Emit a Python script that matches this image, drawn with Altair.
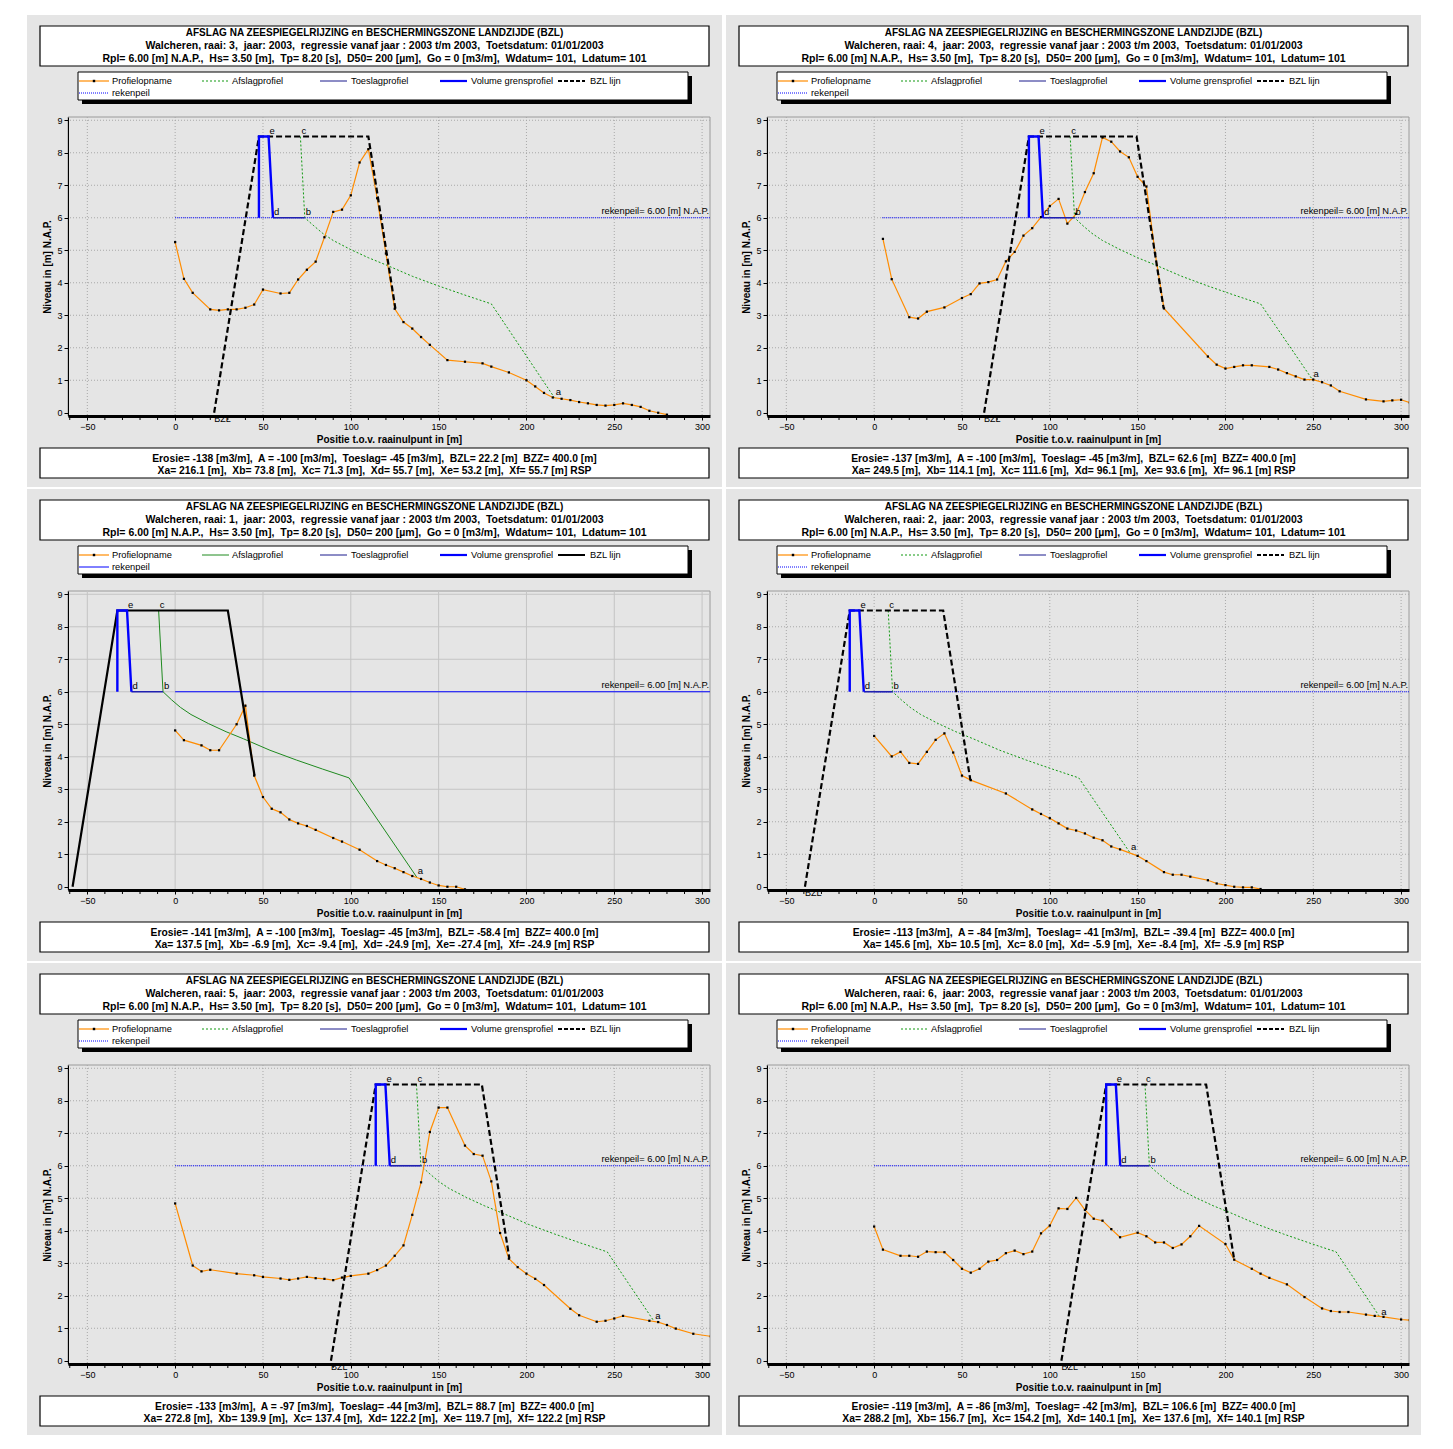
import altair as alt
import pandas as pd

FONT = "Liberation Sans"
PANELS = [3, 4, 1, 2, 5, 6]
SP2 = "\u00a0 "  # wide gap as in the original (double space)

# ---------------- texts ----------------
TITLE1 = "AFSLAG NA ZEESPIEGELRIJZING en BESCHERMINGSZONE LANDZIJDE (BZL)"
TITLE2 = {r: f"Walcheren, raai: {r},{SP2}jaar: 2003,{SP2}regressie vanaf jaar : 2003 t/m 2003,{SP2}Toetsdatum: 01/01/2003"
          for r in PANELS}
TITLE3 = (f"Rpl= 6.00 [m] N.A.P.,{SP2}Hs= 3.50 [m],{SP2}Tp= 8.20 [s],{SP2}D50= 200 [µm],{SP2}"
          f"Go = 0 [m3/m],{SP2}Wdatum= 101,{SP2}Ldatum= 101")
INFO1 = {
    3: f"Erosie= -138 [m3/m],{SP2}A = -100 [m3/m],{SP2}Toeslag= -45 [m3/m],{SP2}BZL= 22.2 [m]{SP2}BZZ= 400.0 [m]",
    4: f"Erosie= -137 [m3/m],{SP2}A = -100 [m3/m],{SP2}Toeslag= -45 [m3/m],{SP2}BZL= 62.6 [m]{SP2}BZZ= 400.0 [m]",
    1: f"Erosie= -141 [m3/m],{SP2}A = -100 [m3/m],{SP2}Toeslag= -45 [m3/m],{SP2}BZL= -58.4 [m]{SP2}BZZ= 400.0 [m]",
    2: f"Erosie= -113 [m3/m],{SP2}A = -84 [m3/m],{SP2}Toeslag= -41 [m3/m],{SP2}BZL= -39.4 [m]{SP2}BZZ= 400.0 [m]",
    5: f"Erosie= -133 [m3/m],{SP2}A = -97 [m3/m],{SP2}Toeslag= -44 [m3/m],{SP2}BZL= 88.7 [m]{SP2}BZZ= 400.0 [m]",
    6: f"Erosie= -119 [m3/m],{SP2}A = -86 [m3/m],{SP2}Toeslag= -42 [m3/m],{SP2}BZL= 106.6 [m]{SP2}BZZ= 400.0 [m]",
}
INFO2 = {
    3: f"Xa= 216.1 [m],{SP2}Xb= 73.8 [m],{SP2}Xc= 71.3 [m],{SP2}Xd= 55.7 [m],{SP2}Xe= 53.2 [m],{SP2}Xf= 55.7 [m] RSP",
    4: f"Xa= 249.5 [m],{SP2}Xb= 114.1 [m],{SP2}Xc= 111.6 [m],{SP2}Xd= 96.1 [m],{SP2}Xe= 93.6 [m],{SP2}Xf= 96.1 [m] RSP",
    1: f"Xa= 137.5 [m],{SP2}Xb= -6.9 [m],{SP2}Xc= -9.4 [m],{SP2}Xd= -24.9 [m],{SP2}Xe= -27.4 [m],{SP2}Xf= -24.9 [m] RSP",
    2: f"Xa= 145.6 [m],{SP2}Xb= 10.5 [m],{SP2}Xc= 8.0 [m],{SP2}Xd= -5.9 [m],{SP2}Xe= -8.4 [m],{SP2}Xf= -5.9 [m] RSP",
    5: f"Xa= 272.8 [m],{SP2}Xb= 139.9 [m],{SP2}Xc= 137.4 [m],{SP2}Xd= 122.2 [m],{SP2}Xe= 119.7 [m],{SP2}Xf= 122.2 [m] RSP",
    6: f"Xa= 288.2 [m],{SP2}Xb= 156.7 [m],{SP2}Xc= 154.2 [m],{SP2}Xd= 140.1 [m],{SP2}Xe= 137.6 [m],{SP2}Xf= 140.1 [m] RSP",
}
LEGEND_NAMES = ["Profielopname", "Afslagprofiel", "Toeslagprofiel", "Volume grensprofiel", "BZL lijn", "rekenpeil"]
REKENPEIL_TEXT = "rekenpeil= 6.00 [m] N.A.P."
XTITLE = "Positie t.o.v. raainulpunt in [m]"
YTITLE = "Niveau in [m] N.A.P."
XTICKS = [-50, 0, 50, 100, 150, 200, 250, 300]
XMINOR = [-60, -40, -30, -20, -10, 10, 20, 30, 40, 60, 70, 80, 90, 110, 120, 130, 140, 160, 170, 180, 190,
          210, 220, 230, 240, 260, 270, 280, 290]
YTICKS = [0, 1, 2, 3, 4, 5, 6, 7, 8, 9]

# ---------------- profile measurements ----------------
PROF_X = {
    3: [0, 5, 10, 20, 25, 30, 35, 40, 45, 50, 60, 65, 70, 75, 80, 85, 90, 95, 100, 105, 110, 115, 120, 125, 130,
        135, 140, 145, 155, 165, 175, 180, 190, 200, 205, 210, 215, 220, 225, 230, 235, 240, 245, 250, 255, 260,
        265, 270, 275, 280],
    4: [5, 10, 20, 25, 30, 40, 50, 55, 60, 65, 70, 75, 80, 85, 90, 95, 100, 105, 110, 115, 120, 125, 130, 135, 140,
        145, 150, 155, 160, 165, 190, 195, 200, 205, 210, 215, 225, 230, 235, 240, 245, 250, 255, 260, 265, 280,
        290, 295, 300, 305],
    1: [0, 5, 15, 20, 25, 35, 40, 45, 50, 55, 60, 65, 70, 75, 80, 90, 95, 105, 115, 120, 125, 130, 135, 140, 145,
        150, 155, 160, 165],
    2: [0, 10, 15, 20, 25, 30, 35, 40, 45, 50, 55, 75, 90, 95, 100, 105, 110, 115, 120, 125, 130, 135, 140, 150,
        155, 165, 170, 175, 180, 190, 195, 200, 205, 210, 215, 220],
    5: [0, 10, 15, 20, 35, 45, 50, 60, 65, 70, 75, 80, 85, 90, 95, 100, 110, 115, 120, 125, 130, 135, 140, 145, 150,
        155, 165, 170, 175, 180, 185, 190, 195, 200, 205, 210, 225, 230, 240, 245, 250, 255, 270, 275, 280, 285,
        295, 305],
    6: [0, 5, 15, 20, 25, 30, 35, 40, 45, 50, 55, 60, 65, 70, 75, 80, 85, 90, 95, 100, 105, 110, 115, 120, 125, 130,
        135, 140, 150, 155, 160, 165, 170, 175, 180, 185, 200, 205, 215, 220, 225, 235, 245, 255, 260, 265, 270,
        280, 285, 290, 300, 305],
}
PROF_Y = {
    3: [5.25, 4.12, 3.69, 3.18, 3.15, 3.18, 3.18, 3.23, 3.33, 3.79, 3.67, 3.69, 4.10, 4.40, 4.65, 5.40, 6.18, 6.25,
        6.69, 7.70, 8.11, 6.60, 4.90, 3.20, 2.79, 2.59, 2.33, 2.09, 1.62, 1.57, 1.52, 1.42, 1.24, 1.00, 0.81, 0.61,
        0.47, 0.43, 0.39, 0.33, 0.29, 0.24, 0.22, 0.24, 0.29, 0.24, 0.18, 0.06, 0.00, -0.06],
    4: [5.35, 4.11, 2.94, 2.90, 3.11, 3.24, 3.53, 3.65, 3.98, 4.02, 4.10, 4.66, 4.95, 5.45, 5.68, 6.02, 6.36, 6.58,
        5.82, 6.12, 6.79, 7.37, 8.47, 8.34, 8.04, 7.86, 7.26, 6.96, 4.90, 3.21, 1.73, 1.48, 1.36, 1.41, 1.46, 1.46,
        1.41, 1.33, 1.22, 1.12, 1.02, 1.02, 0.94, 0.84, 0.66, 0.41, 0.35, 0.38, 0.40, 0.31],
    1: [4.81, 4.51, 4.35, 4.20, 4.20, 5.00, 5.57, 3.42, 2.76, 2.40, 2.29, 2.07, 1.95, 1.87, 1.75, 1.50, 1.39, 1.14,
        0.79, 0.67, 0.57, 0.45, 0.33, 0.24, 0.13, 0.04, 0.00, 0.00, -0.08],
    2: [4.64, 4.01, 4.15, 3.81, 3.78, 4.15, 4.52, 4.72, 4.13, 3.42, 3.28, 2.87, 2.38, 2.24, 2.11, 1.95, 1.79, 1.73,
        1.64, 1.51, 1.43, 1.24, 1.15, 0.95, 0.79, 0.45, 0.37, 0.37, 0.31, 0.20, 0.10, 0.05, 0.00, -0.02, -0.02, -0.07],
    5: [4.84, 2.93, 2.75, 2.80, 2.68, 2.63, 2.58, 2.53, 2.49, 2.53, 2.58, 2.54, 2.52, 2.48, 2.56, 2.61, 2.68, 2.79,
        2.93, 3.23, 3.55, 4.49, 5.49, 7.04, 7.79, 7.79, 6.62, 6.36, 6.31, 5.52, 3.93, 3.14, 2.88, 2.68, 2.52, 2.33,
        1.60, 1.40, 1.20, 1.23, 1.30, 1.38, 1.23, 1.19, 1.10, 0.99, 0.83, 0.75],
    6: [4.13, 3.42, 3.23, 3.23, 3.20, 3.36, 3.34, 3.34, 3.10, 2.83, 2.71, 2.83, 3.05, 3.10, 3.31, 3.39, 3.28, 3.36,
        3.92, 4.16, 4.69, 4.67, 5.01, 4.64, 4.37, 4.31, 4.05, 3.80, 3.94, 3.83, 3.64, 3.64, 3.47, 3.58, 3.83, 4.15,
        3.59, 3.11, 2.83, 2.68, 2.55, 2.35, 1.96, 1.61, 1.53, 1.50, 1.50, 1.42, 1.38, 1.35, 1.27, 1.25],
}

# ---------------- afslagprofiel (c -> b -> ... -> a) ----------------
AFSLAG_X = {
    3: [71.3, 73.8, 79, 84, 90, 100, 110, 120, 135, 150, 165, 180, 216.1],
    4: [111.6, 114.1, 119, 124, 130, 140, 150, 160, 175, 190, 205, 220, 249.5],
    1: [-9.4, -6.9, -2, 3, 9, 19, 29, 39, 54, 69, 84, 99, 137.5],
    2: [8.0, 10.5, 15.5, 20.5, 26.5, 36.5, 46.5, 56.5, 71.5, 86.5, 101.5, 116.5, 145.6],
    5: [137.4, 139.9, 145, 150, 156, 166, 176, 186, 201, 216, 231, 246, 272.8],
    6: [154.2, 156.7, 162, 167, 173, 183, 193, 203, 218, 233, 248, 263, 288.2],
}
AFSLAG_Y = {
    3: [8.5, 6.0, 5.75, 5.52, 5.3, 5.02, 4.77, 4.55, 4.2, 3.9, 3.62, 3.35, 0.45],
    4: [8.5, 6.0, 5.75, 5.52, 5.3, 5.02, 4.77, 4.55, 4.2, 3.9, 3.62, 3.35, 1.02],
    1: [8.5, 6.0, 5.75, 5.52, 5.3, 5.02, 4.77, 4.55, 4.2, 3.9, 3.62, 3.35, 0.30],
    2: [8.5, 6.0, 5.75, 5.52, 5.3, 5.02, 4.77, 4.55, 4.2, 3.9, 3.62, 3.35, 1.05],
    5: [8.5, 6.0, 5.75, 5.52, 5.3, 5.02, 4.77, 4.55, 4.2, 3.9, 3.62, 3.35, 1.20],
    6: [8.5, 6.0, 5.75, 5.52, 5.3, 5.02, 4.77, 4.55, 4.2, 3.9, 3.62, 3.35, 1.32],
}
# ---------------- volume grensprofiel (left foot -> top -> e -> d) ----------------
VOL_X = {
    3: [47.7, 47.7, 53.2, 55.7], 4: [88.1, 88.1, 93.6, 96.1], 1: [-32.9, -32.9, -27.4, -24.9],
    2: [-13.9, -13.9, -8.4, -5.9], 5: [114.2, 114.2, 119.7, 122.2], 6: [132.1, 132.1, 137.6, 140.1],
}
VOL_Y = [6.0, 8.5, 8.5, 6.0]
# ---------------- toeslagprofiel (d -> b) ----------------
TOES_X = {3: [55.7, 73.8], 4: [96.1, 114.1], 1: [-24.9, -6.9], 2: [-5.9, 10.5], 5: [122.2, 139.9], 6: [140.1, 156.7]}
TOES_Y = [6.0, 6.0]
# ---------------- BZL lijn ----------------
BZL_X = {
    3: [22.2, 47.7, 110.0, 125.4], 4: [62.6, 88.1, 149.4, 164.8], 1: [-58.4, -32.9, 30.0, 45.2],
    2: [-39.4, -13.9, 39.3, 54.8], 5: [88.7, 114.2, 174.6, 190.3], 6: [106.6, 132.1, 189.0, 205.0],
}
BZL_Y = {
    3: [0, 8.5, 8.5, 3.20], 4: [0, 8.5, 8.5, 3.21], 1: [0, 8.5, 8.5, 3.42],
    2: [0, 8.5, 8.5, 3.28], 5: [0, 8.5, 8.5, 3.14], 6: [0, 8.5, 8.5, 3.11],
}
# ---------------- rekenpeil ----------------
REKEN_X = {3: [0, 304.5], 4: [4.6, 304.5], 1: [0, 304.5], 2: [0, 304.5], 5: [0, 304.5], 6: [0, 304.5]}
REKEN_Y = [6.0, 6.0]
# ---------------- point letters ----------------
LETTERS = ["e", "c", "d", "b", "a"]
LET_X = {
    3: [53.2, 71.3, 55.7, 73.8, 216.1], 4: [93.6, 111.6, 96.1, 114.1, 249.5], 1: [-27.4, -9.4, -24.9, -6.9, 137.5],
    2: [-8.4, 8.0, -5.9, 10.5, 145.6], 5: [119.7, 137.4, 122.2, 139.9, 272.8], 6: [137.6, 154.2, 140.1, 156.7, 288.2],
}
LET_Y = {r: [8.5, 8.5, 6.0, 6.0, AFSLAG_Y[r][-1]] for r in PANELS}
BZL_LABEL_X = {3: 22.2, 4: 62.6, 2: -39.4, 5: 88.7, 6: 106.6}

# ---------------- layout constants (pixels, relative to plot origin) ----------------
W, H = 642, 299
XS = alt.Scale(domain=[-61, 304.5], nice=False, zero=False)
YS = alt.Scale(domain=[-0.1, 9.1], nice=False, zero=False)
PANEL_BG = "#e5e5e5"
ONE = pd.DataFrame({"k": [0]})

XAX = alt.Axis(values=XTICKS, title=XTITLE, grid=False, zindex=1, domainColor="black", domainWidth=3,
               tickColor="black", tickSize=4, labelFontSize=9, labelFont=FONT, labelColor="black",
               titleFont=FONT, titleFontSize=10, titleFontWeight="bold", titleColor="black",
               labelPadding=2, titlePadding=3, labelFlush=False, labelOverlap=False)
YAX = alt.Axis(values=YTICKS, title=YTITLE, grid=False, zindex=1, domainColor="black", domainWidth=1,
               tickColor="black", tickSize=4, labelFontSize=9, labelFont=FONT, labelColor="black",
               titleFont=FONT, titleFontSize=10, titleFontWeight="bold", titleColor="black",
               labelPadding=2, titlePadding=4, labelFlush=False, labelOverlap=False)
X = alt.X("x:Q", scale=XS, axis=XAX)
Y = alt.Y("y:Q", scale=YS, axis=YAX)


def vrect(x1, x2, y1, y2, fill, stroke=None, sw=1.0):
    kw = dict(fill=fill)
    if stroke:
        kw.update(stroke=stroke, strokeWidth=sw)
    else:
        kw.update(strokeWidth=0)
    return alt.Chart(ONE).mark_rect(**kw).encode(
        x=alt.value(x1), x2=alt.value(x2), y=alt.value(y1), y2=alt.value(y2))


def vtext(s, x, y, size=9.0, weight="normal", align="left"):
    return alt.Chart(pd.DataFrame({"t": [s]})).mark_text(
        align=align, baseline="middle", fontSize=size, fontWeight=weight, font=FONT, color="black"
    ).encode(x=alt.value(x), y=alt.value(y), text="t:N")


def vline(x1, x2, y, color, width, dash=None):
    kw = dict(color=color, strokeWidth=width)
    if dash:
        kw["strokeDash"] = dash
    return alt.Chart(ONE).mark_rule(**kw).encode(x=alt.value(x1), x2=alt.value(x2), y=alt.value(y))


def dline(xs, ys, color, width, dash=None):
    df = pd.DataFrame({"x": xs, "y": ys, "i": list(range(len(xs)))})
    kw = dict(color=color, strokeWidth=width, clip=True)
    if dash:
        kw["strokeDash"] = dash
    return alt.Chart(df).mark_line(**kw).encode(x=X, y=Y, order="i:Q")


def panel(r):
    solid = (r == 1)
    green = "#1f8a1f" if solid else "#119911"
    green_dash = None if solid else [2, 2]
    rek_dash = None if solid else [1, 1]
    bzl_dash = None if solid else [6, 3]
    bzl_w = 2.2
    layers = []
    # panel background and boxes
    layers.append(vrect(-41, 654, -102, 370, PANEL_BG))
    layers.append(vrect(-28, 641, -91, -51, "white", "black", 1.2))
    layers.append(vtext(TITLE1, 306.5, -84, 10, "bold", "center"))
    layers.append(vtext(TITLE2[r], 306.5, -71, 10.5, "bold", "center"))
    layers.append(vtext(TITLE3, 306.5, -58, 10.5, "bold", "center"))
    layers.append(vrect(14, 624, -41, -13, "black"))
    layers.append(vrect(10, 620, -45, -17, "white", "black", 1))
    ly1, ly2 = -36, -24
    layers.append(vline(11, 41, ly1, "#ff8c00", 1.2))
    layers.append(alt.Chart(ONE).mark_square(size=6, color="black", opacity=1).encode(
        x=alt.value(26), y=alt.value(ly1)))
    layers.append(vtext(LEGEND_NAMES[0], 44, ly1, 9.3))
    layers.append(vline(134, 161, ly1, green, 1, green_dash))
    layers.append(vtext(LEGEND_NAMES[1], 164, ly1, 9.3))
    layers.append(vline(252, 279, ly1, "#1a1a8c", 1))
    layers.append(vtext(LEGEND_NAMES[2], 283, ly1, 9.3))
    layers.append(vline(372, 399, ly1, "#0000ff", 2.2))
    layers.append(vtext(LEGEND_NAMES[3], 403, ly1, 9.3))
    layers.append(vline(490, 517, ly1, "black", 2, [4, 2] if not solid else None))
    layers.append(vtext(LEGEND_NAMES[4], 522, ly1, 9.3))
    layers.append(vline(11, 41, ly2, "#0000ff", 1, rek_dash))
    layers.append(vtext(LEGEND_NAMES[5], 44, ly2, 9.3))
    layers.append(vrect(-28, 641, 331, 361, "white", "black", 1.2))
    layers.append(vtext(INFO1[r], 306.5, 342, 10.3, "bold", "center"))
    layers.append(vtext(INFO2[r], 306.5, 354, 10.3, "bold", "center"))
    # plot frame
    layers.append(vrect(0, W, 0, H, PANEL_BG, "#9a9a9a", 1))
    # grid
    gcol = "#c4c4c4" if solid else "#a8a8a8"
    gdash = None if solid else [1, 2]
    gkw = dict(color=gcol, strokeWidth=1)
    if gdash:
        gkw["strokeDash"] = gdash
    layers.append(alt.Chart(pd.DataFrame({"x": XTICKS})).mark_rule(**gkw).encode(x=X))
    layers.append(alt.Chart(pd.DataFrame({"y": YTICKS[1:]})).mark_rule(**gkw).encode(y=Y))
    # minor ticks along the x axis
    layers.append(alt.Chart(pd.DataFrame({"x": XMINOR})).mark_rule(color="black", strokeWidth=1).encode(
        x=X, y=alt.value(H + 1), y2=alt.value(H + 4)))
    # data
    layers.append(dline(REKEN_X[r], REKEN_Y, "#0000ff", 1, rek_dash))
    layers.append(dline(AFSLAG_X[r], AFSLAG_Y[r], green, 1, green_dash))
    pdf = pd.DataFrame({"x": PROF_X[r], "y": PROF_Y[r]})
    layers.append(alt.Chart(pdf).mark_line(color="#ff8c00", strokeWidth=1.2, clip=True).encode(x=X, y=Y))
    layers.append(alt.Chart(pdf).mark_square(size=5, color="black", opacity=1, clip=True).encode(x=X, y=Y))
    layers.append(dline(BZL_X[r], BZL_Y[r], "black", bzl_w, bzl_dash))
    layers.append(dline(TOES_X[r], TOES_Y, "#2020b0", 1.6))
    layers.append(dline(VOL_X[r], VOL_Y, "#0000ff", 2.4))
    # letters
    ldf = pd.DataFrame({"x": LET_X[r], "y": LET_Y[r], "t": LETTERS})
    layers.append(alt.Chart(ldf).mark_text(align="left", baseline="bottom", dx=1, dy=-1, fontSize=9.5,
                                           font=FONT, color="black").encode(x=X, y=Y, text="t:N"))
    rdf = pd.DataFrame({"x": [304.5], "y": [6.0], "t": [REKENPEIL_TEXT]})
    layers.append(alt.Chart(rdf).mark_text(align="right", baseline="bottom", dx=-1, dy=-2, fontSize=9.3,
                                           font=FONT, color="black").encode(x=X, y=Y, text="t:N"))
    if r in BZL_LABEL_X:
        bdf = pd.DataFrame({"x": [BZL_LABEL_X[r]], "y": [0.0], "t": ["BZL"]})
        layers.append(alt.Chart(bdf).mark_text(align="left", baseline="top", dx=0, dy=2, fontSize=9,
                                               font=FONT, color="black").encode(x=X, y=Y, text="t:N"))
    return alt.layer(*layers).properties(width=W, height=H)


rows = []
for i in range(0, 6, 2):
    rows.append(alt.hconcat(panel(PANELS[i]), panel(PANELS[i + 1]), spacing=4))
chart = alt.vconcat(*rows, spacing=2).properties(
    padding={"left": 19, "top": 7, "right": 2, "bottom": 2}, background="white"
).configure_view(stroke=None)

chart.save("out.html", embed_options={"renderer": "svg", "actions": False})
